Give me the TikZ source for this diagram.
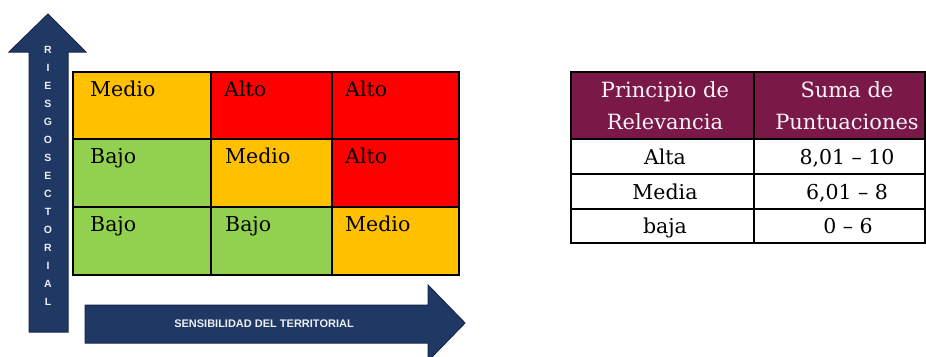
\documentclass[tikz,border=0pt]{standalone}
\usepackage{fontspec}
\setmainfont{DejaVu Serif}
\newfontfamily\arrowfont{Liberation Sans}
\definecolor{navy}{HTML}{1F3864}
\definecolor{navyedge}{HTML}{15284A}
\definecolor{corange}{HTML}{FFC000}
\definecolor{cred}{HTML}{FF0000}
\definecolor{cgreen}{HTML}{92D050}
\definecolor{maroon}{HTML}{7A1848}
\tikzset{
  arrowshape/.style={fill=navy,draw=navyedge,line width=1pt,line join=miter},
  cell/.style={line width=1.2pt,draw=black},
  celltext/.style={anchor=base west,inner sep=0pt,font=\fontsize{20.5}{24}\selectfont},
  arrowletter/.style={text=white!92!navy,inner sep=0pt,font=\arrowfont\bfseries\fontsize{10.5}{11}\selectfont},
  tabline/.style={line width=1.3pt,draw=black},
  headtext/.style={text=white!95!maroon,anchor=base,inner sep=0pt,font=\fontsize{21}{25}\selectfont},
  bodytext/.style={anchor=base,inner sep=0pt,font=\fontsize{20.5}{24}\selectfont},
}
\begin{document}
\begin{tikzpicture}[x=1pt,y=-1pt]
\useasboundingbox (0,0) rectangle (926,356);
% vertical arrow
\draw[arrowshape] (29,332) -- (29,52) -- (9,52) -- (48,14) -- (86,52) -- (68,52) -- (68,332) -- cycle;
\foreach \l [count=\i from 0] in {R,I,E,S,G,O,S,E,C,T,O,R,I,A,L}{
  \node[arrowletter] (v\i) at (48,{50+18*\i}) {\l};
}
% horizontal arrow
\draw[arrowshape] (85,305) -- (428,305) -- (428,285) -- (465,323) -- (428,361) -- (428,343) -- (85,343) -- cycle;
\node[text=white!92!navy,inner sep=0pt,font=\arrowfont\bfseries\fontsize{11}{12}\selectfont] (hlab) at (264,324) {SENSIBILIDAD DEL TERRITORIAL};
% grid
\fill[corange] (73,72) rectangle (211,139);
\fill[cred] (211,72) rectangle (332,139);
\fill[cred] (332,72) rectangle (459,139);
\fill[cgreen] (73,139) rectangle (211,207);
\fill[corange] (211,139) rectangle (332,207);
\fill[cred] (332,139) rectangle (459,207);
\fill[cgreen] (73,207) rectangle (211,275);
\fill[cgreen] (211,207) rectangle (332,275);
\fill[corange] (332,207) rectangle (459,275);
\draw[cell] (211,72) -- (211,275) (332,72) -- (332,275) (73,139) -- (459,139) (73,207) -- (459,207);
\draw[line width=2pt] (73,72) rectangle (459,275);
\node[celltext] (c11) at (90,96) {Medio};
\node[celltext] (c12) at (224,96) {Alto};
\node[celltext] (c13) at (345,96) {Alto};
\node[celltext] (c21) at (90,163) {Bajo};
\node[celltext] (c22) at (225,163) {Medio};
\node[celltext] (c23) at (345,163) {Alto};
\node[celltext] (c31) at (90,231) {Bajo};
\node[celltext] (c32) at (225,231) {Bajo};
\node[celltext] (c33) at (345,231) {Medio};
% table
\fill[maroon] (571,72) rectangle (926,139);
\draw[tabline] (571,72) rectangle (925,243);
\draw[tabline] (754,72) -- (754,243) (571,139) -- (925,139) (571,174) -- (925,174) (571,209) -- (925,209);
\node[headtext] (h1a) at (665,97) {Principio de};
\node[headtext] (h1b) at (665,129) {Relevancia};
\node[headtext] (h2a) at (847,97) {Suma de};
\node[headtext] (h2b) at (847,129) {Puntuaciones};
\node[bodytext] (r1a) at (665,164) {Alta};
\node[bodytext] (r1b) at (847,164) {8,01 – 10};
\node[bodytext] (r2a) at (665,199) {Media};
\node[bodytext] (r2b) at (847,199) {6,01 – 8};
\node[bodytext] (r3a) at (665,233) {baja};
\node[bodytext] (r3b) at (848,233) {0 – 6};
\end{tikzpicture}
\end{document}
